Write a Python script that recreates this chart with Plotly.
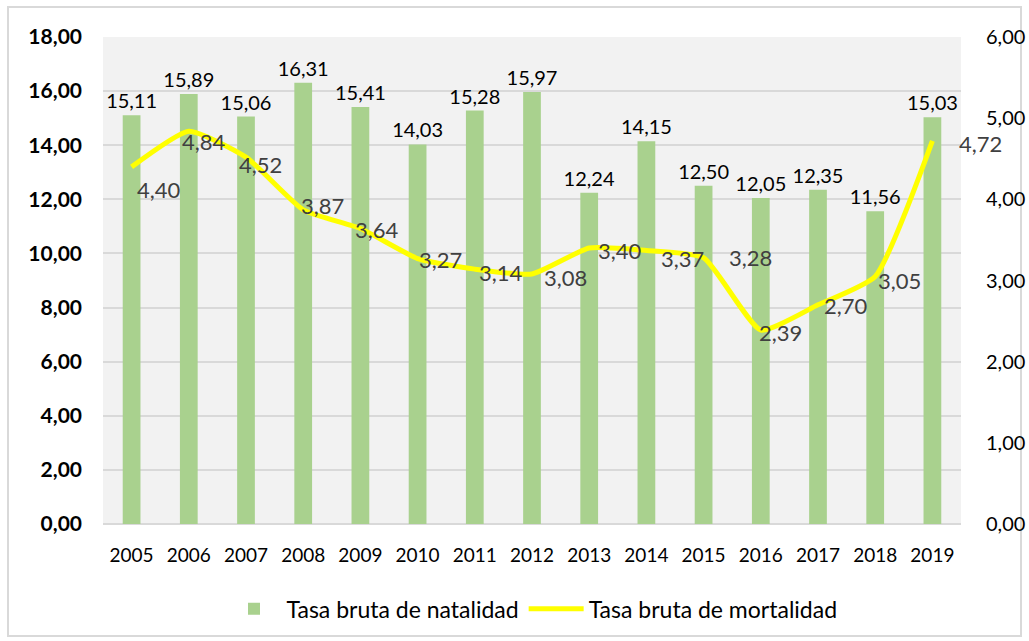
import plotly.graph_objects as go

years = ["2005", "2006", "2007", "2008", "2009", "2010", "2011", "2012",
         "2013", "2014", "2015", "2016", "2017", "2018", "2019"]
natalidad = [15.11, 15.89, 15.06, 16.31, 15.41, 14.03, 15.28, 15.97,
             12.24, 14.15, 12.50, 12.05, 12.35, 11.56, 15.03]
mortalidad = [4.40, 4.84, 4.52, 3.87, 3.64, 3.27, 3.14, 3.08,
              3.40, 3.37, 3.28, 2.39, 2.70, 3.05, 4.72]

# label offsets (pixels) for line data labels: left edge dx, center dy (down positive)
lbl_dx = [3, -9, -9, -4, -7, -1, 2, 10, 7, 13, 23, -4, 4, 1, 25]
lbl_dy = [23, 10, 7, -4, 1, 1, 3, 3, 2, 8, 0, 2, 1, 4, 3]

FONT = "Lato"

fig = go.Figure()
fig.add_trace(go.Bar(
    x=years, y=natalidad, name="Tasa bruta de natalidad",
    marker=dict(color="#a9d18e", line=dict(width=0)),
    width=0.31,
    text=[f"{v:.2f}".replace(".", ",") for v in natalidad],
    textposition="outside", cliponaxis=False, constraintext="none",
    textfont=dict(family=FONT, size=20, color="#000000"),
))
fig.add_trace(go.Scatter(
    x=years, y=mortalidad, name="Tasa bruta de mortalidad", yaxis="y2",
    mode="lines", line=dict(color="#ffff00", width=5, shape="spline", smoothing=0.5),
))

for i, (v, dx, dy) in enumerate(zip(mortalidad, lbl_dx, lbl_dy)):
    fig.add_annotation(x=i, y=v, xref="x", yref="y2", text=f"{v:.2f}".replace(".", ","),
                       showarrow=False, xanchor="left", yanchor="middle",
                       xshift=dx, yshift=-dy,
                       font=dict(family=FONT, size=22, color="#404040"))

# outer chart border
fig.add_shape(type="rect", xref="paper", yref="paper",
              x0=(8 - 103) / 858, x1=(1021 - 103) / 858,
              y0=(524 - 636) / 487, y1=(524 - 7) / 487,
              line=dict(color="#d9d9d9", width=2), layer="below")

fig.update_layout(
    width=1029, height=641,
    margin=dict(l=103, r=68, t=37, b=117, autoexpand=False),
    paper_bgcolor="#ffffff", plot_bgcolor="#f2f2f2",
    separators=",.",
    font=dict(family=FONT, color="#000000"),
    showlegend=True,
    legend=dict(orientation="h", x=0.5, xanchor="center", y=-0.13, yanchor="top",
                font=dict(family=FONT, size=23, color="#000000"),
                traceorder="normal", itemwidth=55),
    xaxis=dict(type="category", range=[-0.5, 14.5], showgrid=False, showline=False, ticks="",
               tickfont=dict(family=FONT, size=19, color="#000000"),
               ticklabelstandoff=18, zeroline=False, automargin=False),
    yaxis=dict(range=[0, 18], dtick=2, tickformat=".2f", showgrid=True,
               gridcolor="#d9d9d9", gridwidth=1.5, zeroline=True,
               zerolinecolor="#d9d9d9", zerolinewidth=2, ticks="",
               tickfont=dict(family=FONT, size=21, color="#000000", weight="bold"),
               ticklabelstandoff=20, automargin=False),
    yaxis2=dict(range=[0, 6], dtick=1, tickformat=".2f", overlaying="y", side="right",
                showgrid=False, zeroline=False, ticks="",
                tickfont=dict(family=FONT, size=20, color="#000000"),
                ticklabelstandoff=24, automargin=False),
)

fig.write_html("out.html", config={"displayModeBar": False},
               post_script="document.body.style.margin='0';")
